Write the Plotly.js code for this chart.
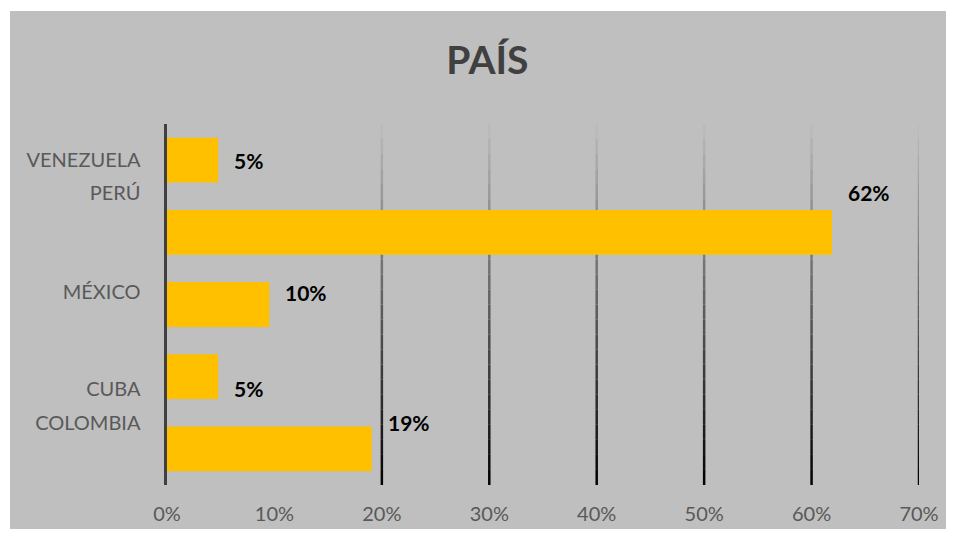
<!DOCTYPE html>
<html>
<head>
<meta charset="utf-8">
<script src="https://cdn.plot.ly/plotly-3.0.1.min.js"></script>
<style>
  html, body { margin: 0; padding: 0; background: #ffffff; }
  #chart { position: absolute; left: 10px; top: 11px; width: 936px; height: 518px; }
</style>
</head>
<body>
<div id="chart"></div>
<script>
// Categories, top to bottom as shown
const categories = ["VENEZUELA", "PERÚ", "MÉXICO", "CUBA", "COLOMBIA"];
// Shares (out of 21 responses)
const values = [0.0476, 0.619, 0.0952, 0.0476, 0.1905];
// Vertical offset of each category's text (tick label and value label) from its bar, in category units
const labelOffset = [0.0, 0.55, 0.17, -0.17, 0.36];
// X ticks
const xTickVals = [0, 0.1, 0.2, 0.3, 0.4, 0.5, 0.6, 0.7];
const xTickText = ["0%", "10%", "20%", "30%", "40%", "50%", "60%", "70%"];
// Gridlines that are drawn
const gridVals = [0.2, 0.3, 0.4, 0.5, 0.6, 0.7];

const n = categories.length;
const barPos = categories.map((c, i) => n - 1 - i);
const labelPos = barPos.map((p, i) => p + labelOffset[i]);

const font = "Lato, 'Open Sans', sans-serif";

const trace = {
  type: "bar",
  orientation: "h",
  x: values,
  y: barPos,
  width: 0.62,
  marker: { color: "#FFC000" },
  hoverinfo: "skip",
  showlegend: false
};

// Gradient gridlines built from segments
const shapes = [];
const segs = 24;
gridVals.forEach(g => {
  for (let s = 0; s < segs; s++) {
    const t = (s + 0.5) / segs; // 0 bottom -> 1 top
    const v = Math.round(0 + t * 190);
    const col = `rgb(${v},${v},${v})`;
    shapes.push({
      type: "line", xref: "x", yref: "paper", layer: "below",
      x0: g, x1: g, y0: s / segs, y1: (s + 1) / segs,
      line: { color: col, width: 2.5 }
    });
  }
});

const annotations = values.map((v, i) => ({
  x: v, y: labelPos[i], xref: "x", yref: "y",
  text: "<b>" + Math.round(v * 100) + "%</b>",
  showarrow: false, xanchor: "left", yanchor: "middle", xshift: 14,
  font: { family: font, size: 21, color: "#000000" }
}));

const layout = {
  width: 936, height: 518,
  paper_bgcolor: "#bfbfbf",
  plot_bgcolor: "#bfbfbf",
  margin: { l: 157, r: 27, t: 113, b: 44 },
  title: {
    text: "<b>PAÍS</b>",
    font: { family: font, size: 39, color: "#404040" },
    x: 0.51, xanchor: "center", y: 0.905, yanchor: "middle"
  },
  xaxis: {
    range: [0, 0.7],
    tickvals: xTickVals, ticktext: xTickText,
    showgrid: false, zeroline: false, showline: false,
    ticks: "", ticklabelstandoff: 15,
    tickfont: { family: font, size: 20, color: "#595959" },
    fixedrange: true
  },
  yaxis: {
    range: [-0.5, n - 0.5],
    tickvals: labelPos, ticktext: categories,
    showgrid: false, zeroline: false,
    showline: true, linecolor: "#404040", linewidth: 3.5,
    ticks: "", ticklabelstandoff: 19,
    tickfont: { family: font, size: 20, color: "#595959" },
    fixedrange: true
  },
  shapes: shapes,
  annotations: annotations,
  bargap: 0.38
};

Plotly.newPlot("chart", [trace], layout, { displayModeBar: false, staticPlot: true });
</script>
</body>
</html>
